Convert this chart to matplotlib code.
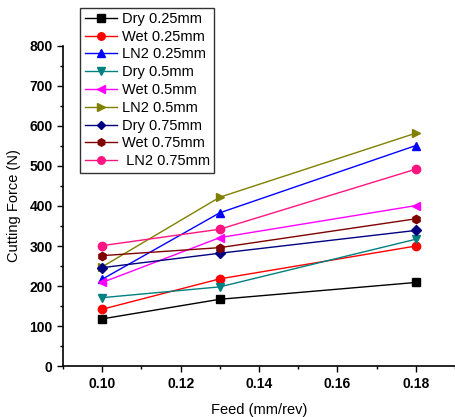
import numpy as np
import matplotlib.pyplot as plt

plt.rcParams['font.family'] = ['Liberation Sans', 'DejaVu Sans']

feed = [0.10, 0.13, 0.18]
dry_025 = [118, 167, 209]
wet_025 = [142, 218, 300]
ln2_025 = [217, 383, 551]
dry_05 = [171, 198, 317]
wet_05 = [209, 321, 401]
ln2_05 = [248, 422, 582]
dry_075 = [246, 282, 339]
wet_075 = [276, 296, 368]
ln2_075 = [301, 342, 492]

series = [
    (dry_025, 'Dry 0.25mm', 'black', 's'),
    (wet_025, 'Wet 0.25mm', 'red', 'o'),
    (ln2_025, 'LN2 0.25mm', 'blue', '^'),
    (dry_05, 'Dry 0.5mm', '#008080', 'v'),
    (wet_05, 'Wet 0.5mm', 'magenta', '<'),
    (ln2_05, 'LN2 0.5mm', '#808000', '>'),
    (dry_075, 'Dry 0.75mm', '#000080', 'D'),
    (wet_075, 'Wet 0.75mm', '#800000', 'h'),
    (ln2_075, ' LN2 0.75mm', '#FF1480', 'o'),
]

fig = plt.figure(figsize=(4.56, 4.17), dpi=100)
ax = fig.add_axes([0.138, 0.122, 0.86, 0.768])

for y, lab, c, m in series:
    ms = 5 if m == 'D' else 6
    ax.plot(feed, y, color=c, marker=m, markersize=ms, linewidth=1, label=lab)

ax.set_xlim(0.09, 0.19)
ax.set_ylim(0, 800)
ax.set_xticks([0.10, 0.12, 0.14, 0.16, 0.18])
ax.set_xticks(np.arange(0.09, 0.1901, 0.01), minor=True)
ax.set_yticks(np.arange(0, 801, 100))
ax.set_yticks(np.arange(0, 801, 50), minor=True)
ax.set_xticklabels(['0.10', '0.12', '0.14', '0.16', '0.18'])
for s in ['top', 'right']:
    ax.spines[s].set_visible(False)
for s in ['left', 'bottom']:
    ax.spines[s].set_linewidth(1.2)
ax.tick_params(which='major', direction='out', length=4, width=1, labelsize=10)
ax.tick_params(which='minor', direction='out', length=2.5, width=1)
for t in ax.get_xticklabels() + ax.get_yticklabels():
    t.set_fontweight('bold')
ax.set_xlabel('Feed (mm/rev)', fontsize=10.5, labelpad=9)
ax.set_ylabel('Cutting Force (N)', fontsize=10.5, labelpad=6)

leg = fig.legend(loc='upper left', bbox_to_anchor=(0.176, 0.982), borderaxespad=0,
                 fontsize=10.5, frameon=True, fancybox=False, edgecolor='black',
                 handlelength=2.2, handletextpad=0.35, labelspacing=0.26,
                 borderpad=0.3, markerscale=0.9)
leg.get_frame().set_linewidth(1)

fig.savefig('out.png', dpi=100)
